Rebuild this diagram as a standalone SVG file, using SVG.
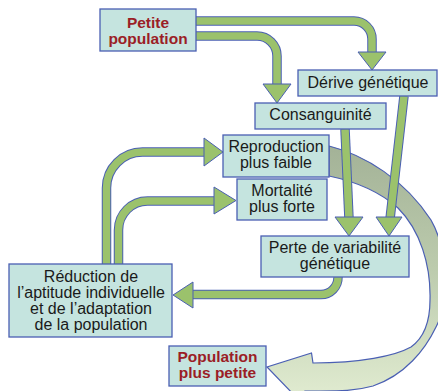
<svg xmlns="http://www.w3.org/2000/svg" width="438" height="391" viewBox="0 0 438 391">
<defs>
<linearGradient id="bigGrad" x1="0" y1="145" x2="0" y2="392" gradientUnits="userSpaceOnUse">
<stop offset="0" stop-color="#a3b297"/>
<stop offset="0.5" stop-color="#bccbad"/>
<stop offset="1" stop-color="#dfeacf"/>
</linearGradient>
<style>
.box{fill:#c5e4df;stroke:#4a5fb3;stroke-width:1.3}
.t{font-family:"Liberation Sans",Arial,sans-serif;font-size:16px;fill:#1a1a1a;text-anchor:middle}
.r{font-family:"Liberation Sans",Arial,sans-serif;font-size:15.5px;font-weight:bold;fill:#9b1e26;text-anchor:middle}
.bo{fill:none;stroke:#4a5fb3;stroke-width:9.5}
.bi{fill:none;stroke:#9bc26c;stroke-width:7.5}
.hd{fill:#9bc26c;stroke:#4a5fb3;stroke-width:1;stroke-linejoin:miter}
</style>
</defs>
<rect width="438" height="391" fill="#ffffff"/>
<g id="connectors">
<path id="big-arrow" d="M329,146 C365,155 405,180 431,220 C448,250 450,300 436,327 C425,350 405,375 373,386 C355,391 340,391 320,391 L305,391 L296,397 L267,367 L311.5,353 L313,363 C360,363 395,356 411,347 C425,337 430,320 430,300 C431,265 420,230 398,208 C380,192 358,182 329,176 Z" fill="url(#bigGrad)" stroke="#4a5fb3" stroke-width="1.2"/>
<g id="c1">
<path class="bo" d="M196,21 H354 A18,18 0 0 1 372,39 V54"/>
<path class="bi" d="M196,21 H354 A18,18 0 0 1 372,39 V54"/>
<polygon class="hd" points="358,52 386,52 372,70"/>
</g>
<g id="c2">
<path class="bo" d="M196,36 H257 A20,20 0 0 1 277,56 V86"/>
<path class="bi" d="M196,36 H257 A20,20 0 0 1 277,56 V86"/>
<polygon class="hd" points="263,84 291,84 277,103"/>
</g>
<g id="c3">
<path class="bo" d="M345,129 L349,219"/>
<path class="bi" d="M345,129 L349,219"/>
<polygon class="hd" points="335,217 363,217 349,236"/>
</g>
<g id="c4">
<path class="bo" d="M404,96 L390,219"/>
<path class="bi" d="M404,96 L390,219"/>
<polygon class="hd" points="376,217 402,217 389,236"/>
</g>
<g id="c5">
<path class="bo" d="M338,277 A17,17 0 0 1 321,294.5 H191"/>
<path class="bi" d="M338,277 A17,17 0 0 1 321,294.5 H191"/>
<polygon class="hd" points="193,282 193,308 173,295"/>
</g>
<g id="c6">
<path class="bo" d="M106.5,265 V188 A36,36 0 0 1 142.5,152 H206"/>
<path class="bi" d="M106.5,265 V188 A36,36 0 0 1 142.5,152 H206"/>
<polygon class="hd" points="204,138 204,166 223,152"/>
</g>
<g id="c7">
<path class="bo" d="M118.5,265 V230 A29,29 0 0 1 147.5,201 H216"/>
<path class="bi" d="M118.5,265 V230 A29,29 0 0 1 147.5,201 H216"/>
<polygon class="hd" points="214,187 214,214 236,200.5"/>
</g>
</g>
<g id="n-petite">
<rect class="box" x="100" y="9" width="96" height="42"/>
<text class="r" x="148" y="28">Petite</text>
<text class="r" x="148" y="44">population</text>
</g>
<g id="n-derive">
<rect class="box" x="298" y="70" width="139" height="26"/>
<text class="t" x="368" y="88">Dérive génétique</text>
</g>
<g id="n-consang">
<rect class="box" x="255" y="103" width="131" height="26"/>
<text class="t" x="320.5" y="120">Consanguinité</text>
</g>
<g id="n-repro">
<rect class="box" x="223" y="135" width="106" height="42"/>
<text class="t" x="276" y="151.5">Reproduction</text>
<text class="t" x="276" y="168">plus faible</text>
</g>
<g id="n-mort">
<rect class="box" x="237" y="179" width="90" height="41"/>
<text class="t" x="282" y="196">Mortalité</text>
<text class="t" x="282" y="212">plus forte</text>
</g>
<g id="n-perte">
<rect class="box" x="261" y="236" width="148" height="41"/>
<text class="t" x="335" y="252.5">Perte de variabilité</text>
<text class="t" x="335" y="268.5">génétique</text>
</g>
<g id="n-reduc">
<rect class="box" x="9" y="264" width="163" height="73"/>
<text class="t" x="91" y="281.5">Réduction de</text>
<text class="t" x="91" y="298">l’aptitude individuelle</text>
<text class="t" x="91" y="314">et de l’adaptation</text>
<text class="t" x="91" y="330">de la population</text>
</g>
<g id="n-popmin">
<rect class="box" x="169" y="346" width="97" height="40"/>
<text class="r" x="217.5" y="362">Population</text>
<text class="r" x="217.5" y="378">plus petite</text>
</g>
</svg>
